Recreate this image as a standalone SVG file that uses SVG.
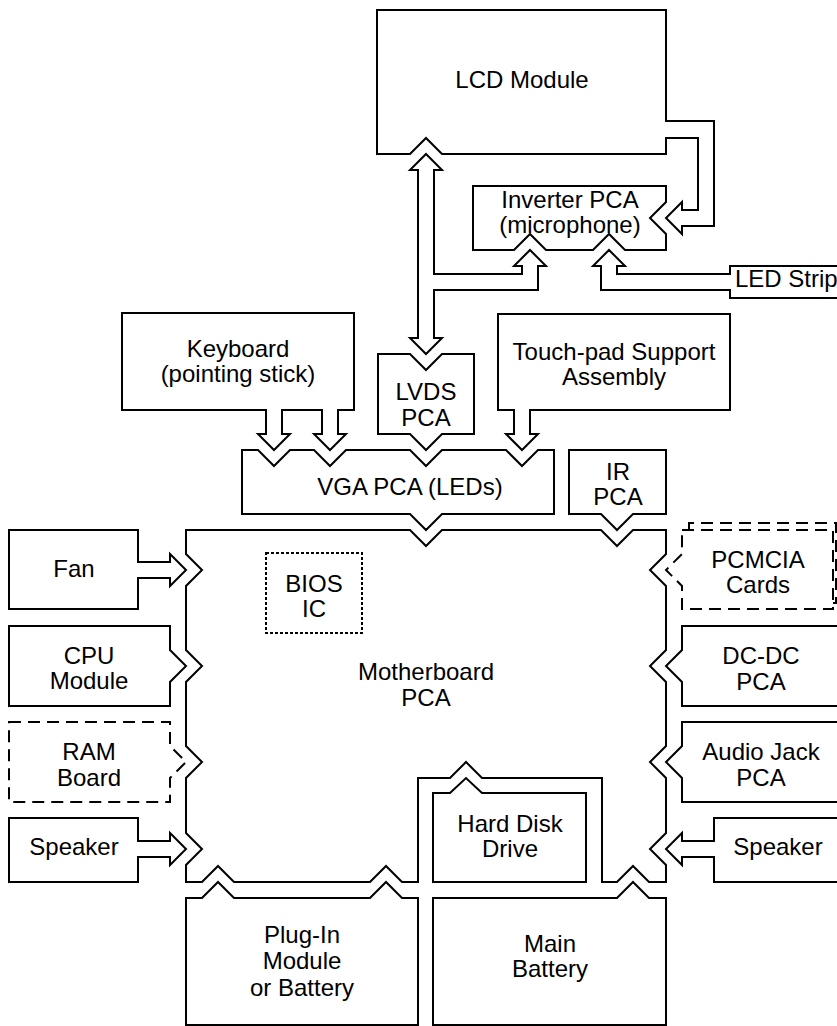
<svg xmlns="http://www.w3.org/2000/svg" width="837" height="1026" viewBox="0 0 837 1026">
<style>
.n{fill:#fff;stroke:#000;stroke-width:2;stroke-linejoin:miter}
.d{stroke-dasharray:12 7}
.b{stroke-dasharray:3 2}
.c{fill:#fff;stroke:#000;stroke-width:2}
text{font-family:"Liberation Sans",Arial,Helvetica,sans-serif;font-size:24px;fill:#000;text-anchor:middle}
</style>
<rect width="837" height="1026" fill="#fff"/>
<g id="lcd"><path class="n" d="M377,10 H666 V154 H442 L426,138 L410,154 H377 Z"/><text x="522" y="88">LCD Module</text></g>
<g id="inverter"><path class="n" d="M473,186 H666 V202 L650,218 L666,234 V250 H625 L609,234 L593,250 H546 L530,234 L514,250 H473 Z"/><text x="570" y="208">Inverter PCA</text><text x="570" y="233">(microphone)</text></g>
<g id="led"><path class="n" d="M730,266 H842 V298 H730 Z"/><text x="735" y="287" style="text-anchor:start">LED Strip</text></g>
<g id="keyboard"><path class="n" d="M122,313 H354 V410 H122 Z"/><text x="238" y="357">Keyboard</text><text x="238" y="382">(pointing stick)</text></g>
<g id="lvds"><path class="n" d="M378,354 H410 L426,370 L442,354 H474 V434 H442 L426,450 L410,434 H378 Z"/><text x="426" y="400">LVDS</text><text x="426" y="426">PCA</text></g>
<g id="touchpad"><path class="n" d="M498,314 H730 V410 H498 Z"/><text x="614" y="360">Touch-pad Support</text><text x="614" y="385">Assembly</text></g>
<g id="vga"><path class="n" d="M242,450 H258 L274,466 L290,450 H314 L330,466 L346,450 H410 L426,466 L442,450 H506 L522,466 L538,450 H554 V514 H442 L426,530 L410,514 H242 Z"/><text x="410" y="495">VGA PCA (LEDs)</text></g>
<g id="ir"><path class="n" d="M569,450 H666 V514 H633 L617,530 L601,514 H569 Z"/><text x="618" y="480">IR</text><text x="618" y="505">PCA</text></g>
<g id="motherboard"><path class="n" d="M186,530 H410 L426,546 L442,530 H601 L617,546 L633,530 H666 V554 L650,570 L666,586 V650 L650,666 L666,682 V746 L650,762 L666,778 V833 L650,849 L666,865 V882 H649 L633,866 L617,882 H602 V778 H482 L466,762 L450,778 H418 V882 H402 L386,866 L370,882 H234 L218,866 L202,882 H186 V865 L202,849 L186,833 V778 L202,762 L186,746 V682 L202,666 L186,650 V586 L202,570 L186,554 Z"/><text x="426" y="680">Motherboard</text><text x="426" y="706">PCA</text></g>
<g id="bios"><path class="n b" d="M266,553 H362 V633 H266 Z"/><text x="314" y="592">BIOS</text><text x="314" y="617">IC</text></g>
<g id="fan"><path class="n" d="M9,530 H138 V609 H9 Z"/><text x="74" y="577">Fan</text></g>
<g id="cpu"><path class="n" d="M9,626 H170 V650 L186,666 L170,682 V706 H9 Z"/><text x="89" y="664">CPU</text><text x="89" y="689">Module</text></g>
<g id="ram"><path class="n d" d="M9,722 H170 V746 L186,762 L170,778 V802 H9 Z"/><text x="89" y="760">RAM</text><text x="89" y="786">Board</text></g>
<g id="speaker-left"><path class="n" d="M9,818 H138 V882 H9 Z"/><text x="74" y="855">Speaker</text></g>
<g id="pcmcia"><path class="n d" d="M689,530 V523 H836 V603 H833" fill="none"/><path class="n d" d="M682,530 H833 V609 H682 V586 L666,570 L682,554 Z"/><text x="758" y="568">PCMCIA</text><text x="758" y="593">Cards</text></g>
<g id="dcdc"><path class="n" d="M682,626 H842 V706 H682 V682 L666,666 L682,650 Z"/><text x="761" y="664">DC-DC</text><text x="761" y="690">PCA</text></g>
<g id="audiojack"><path class="n" d="M682,722 H842 V802 H682 V778 L666,762 L682,746 Z"/><text x="761" y="760">Audio Jack</text><text x="761" y="786">PCA</text></g>
<g id="speaker-right"><path class="n" d="M714,818 H842 V882 H714 Z"/><text x="778" y="855">Speaker</text></g>
<g id="hdd"><path class="n" d="M433,793 H450 L466,778 L482,793 H586 V882 H433 Z"/><text x="510" y="832">Hard Disk</text><text x="510" y="857">Drive</text></g>
<g id="plugin"><path class="n" d="M186,898 H202 L218,882 L234,898 H370 L386,882 L402,898 H418 V1025 H186 Z"/><text x="302" y="943">Plug-In</text><text x="302" y="969">Module</text><text x="302" y="996">or Battery</text></g>
<g id="mainbattery"><path class="n" d="M433,898 H617 L633,882 L649,898 H666 V1025 H433 Z"/><text x="550" y="952">Main</text><text x="550" y="977">Battery</text></g>
<g id="connectors">
<path class="c" d="M426,154 L442,170 H434 V274 H522 V266 H514 L530,250 L546,266 H538 V290 H434 V338 H442 L426,354 L410,338 H418 V170 H410 Z"/>
<path class="c" d="M731,274 H617 V266 H625 L609,250 L593,266 H601 V290 H731"/>
<path class="c" d="M665,121 H714 V226 H682 V234 L666,218 L682,202 V210 H698 V138 H665"/>
<path class="c" d="M266,409 V434 H258 L274,450 L290,434 H282 V409"/>
<path class="c" d="M322,409 V434 H314 L330,450 L346,434 H338 V409"/>
<path class="c" d="M514,409 V434 H506 L522,450 L538,434 H530 V409"/>
<path class="c" d="M137,562 H170 V554 L186,570 L170,586 V578 H137"/>
<path class="c" d="M137,841 H170 V833 L186,849 L170,865 V857 H137"/>
<path class="c" d="M715,841 H682 V833 L666,849 L682,865 V857 H715"/>
</g>
</svg>
